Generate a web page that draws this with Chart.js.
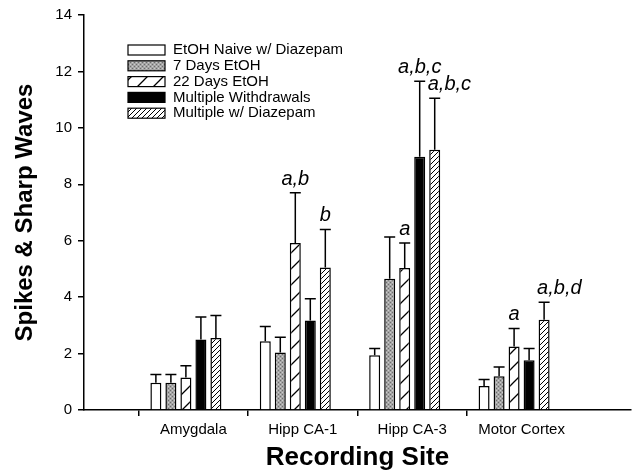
<!DOCTYPE html>
<html lang="en">
  <head>
    <meta charset="UTF-8" />
    <title>Spikes & Sharp Waves</title>
    <script src="https://cdn.jsdelivr.net/npm/chart.js@4.4.1/dist/chart.umd.min.js"></script>
    <style>
      body { margin: 0; background: #fff; }
    </style>
  </head>
  <body>
    <canvas id="myChart" width="636" height="473"></canvas>

    <script>
      // recording sites (x categories)
      const sites = ["Amygdala", "Hipp CA-1", "Hipp CA-3", "Motor Cortex"];
      const seriesNames = [
        "EtOH Naive w/ Diazepam",
        "7 Days EtOH",
        "22 Days EtOH",
        "Multiple Withdrawals",
        "Multiple w/ Diazepam",
      ];

      // means, per site
      const naive = [0.97, 2.44, 1.94, 0.85];
      const days7 = [0.97, 2.04, 4.65, 1.2];
      const days22 = [1.15, 5.92, 5.03, 2.25];
      const multiW = [2.5, 3.17, 8.98, 1.76];
      const multiDz = [2.55, 5.05, 9.22, 3.2];

      // SEM (upper error bars only)
      const naiveSem = [0.29, 0.52, 0.24, 0.23];
      const days7Sem = [0.29, 0.54, 1.48, 0.32];
      const days22Sem = [0.42, 1.78, 0.89, 0.64];
      const multiWSem = [0.8, 0.77, 2.67, 0.42];
      const multiDzSem = [0.8, 1.35, 1.83, 0.62];

      const yMax = 14;
      const yStep = 2;

      // significance letters: site index, series index, text
      const sigLabels = [
        { site: 1, series: 2, text: "a,b" },
        { site: 1, series: 4, text: "b" },
        { site: 2, series: 2, text: "a" },
        { site: 2, series: 3, text: "a,b,c" },
        { site: 2, series: 4, text: "a,b,c" },
        { site: 3, series: 2, text: "a" },
        { site: 3, series: 4, text: "a,b,d" },
      ];

      const means = [naive, days7, days22, multiW, multiDz];
      const sems = [naiveSem, days7Sem, days22Sem, multiWSem, multiDzSem];

      // empty slot on each side so the sites sit at 1..4 of 0..5
      const labels = ["", ...sites, ""];
      const pad = (a) => [null, ...a, null];

      const FONT = "'Liberation Sans', Arial, Helvetica, sans-serif";
      Chart.defaults.font.family = FONT;
      Chart.defaults.color = "#000";

      const ctx = document.getElementById("myChart");
      const g = ctx.getContext("2d");

      function tile(size, draw) {
        const c = document.createElement("canvas");
        c.width = size;
        c.height = size;
        const t = c.getContext("2d");
        draw(t, size);
        return g.createPattern(c, "repeat");
      }

      function hatch(size, lw) {
        return tile(size, (t, s) => {
          t.fillStyle = "#fff";
          t.fillRect(0, 0, s, s);
          t.strokeStyle = "#000";
          t.lineWidth = lw;
          t.beginPath();
          t.moveTo(-1, s + 1);
          t.lineTo(s + 1, -1);
          t.moveTo(-2, 2);
          t.lineTo(2, -2);
          t.moveTo(s - 2, s + 2);
          t.lineTo(s + 2, s - 2);
          t.stroke();
        });
      }

      const stipple = tile(4, (t) => {
        t.fillStyle = "#a4a4a4";
        t.fillRect(0, 0, 4, 4);
        t.fillStyle = "#6c6c6c";
        t.fillRect(0, 0, 1, 1);
        t.fillRect(2, 2, 1, 1);
        t.fillStyle = "#cccccc";
        t.fillRect(2, 0, 1, 1);
        t.fillRect(0, 2, 1, 1);
      });

      const fills = ["#fff", stipple, hatch(16, 1.3), "#000", hatch(5, 1)];

      const datasets = means.map((m, i) => ({
        label: seriesNames[i],
        data: pad(m),
        backgroundColor: fills[i],
        borderColor: "#000",
        borderWidth: 1.5,
      }));
      // sixth, empty slot (original software leaves it blank)
      datasets.push({ label: "", data: labels.map(() => null) });

      const errorBars = {
        id: "errorBars",
        afterDatasetsDraw(chart) {
          const y = chart.scales.y;
          g.save();
          g.strokeStyle = "#000";
          g.lineWidth = 1.5;
          means.forEach((m, i) => {
            const meta = chart.getDatasetMeta(i);
            m.forEach((v, j) => {
              const el = meta.data[j + 1];
              const top = y.getPixelForValue(v + sems[i][j]);
              const half = el.width / 2;
              g.beginPath();
              g.moveTo(el.x, el.y);
              g.lineTo(el.x, top);
              g.moveTo(el.x - half, top);
              g.lineTo(el.x + half, top);
              g.stroke();
            });
          });
          g.restore();
        },
      };

      const sigText = {
        id: "sigText",
        afterDatasetsDraw(chart) {
          const y = chart.scales.y;
          g.save();
          g.fillStyle = "#000";
          g.font = "italic 20px " + FONT;
          g.textBaseline = "alphabetic";
          g.textAlign = "left";
          sigLabels.forEach((s) => {
            const el = chart.getDatasetMeta(s.series).data[s.site + 1];
            const top = y.getPixelForValue(means[s.series][s.site] + sems[s.series][s.site]);
            const w = g.measureText(s.text).width;
            let left = el.x - w / 2;
            if (s.series === means.length - 1) left = Math.max(left, el.x - 7);
            g.fillText(s.text, left, top - 8);
          });
          g.restore();
        },
      };

      const boxLegend = {
        id: "boxLegend",
        afterDraw(chart) {
          const a = chart.chartArea;
          const x0 = a.left + 44;
          g.save();
          g.font = "15px " + FONT;
          g.textBaseline = "middle";
          seriesNames.forEach((name, i) => {
            const cy = a.top + 35 + i * 15.8;
            g.fillStyle = fills[i];
            g.fillRect(x0, cy - 5, 37, 10);
            g.strokeStyle = "#000";
            g.lineWidth = 1.2;
            g.strokeRect(x0, cy - 5, 37, 10);
            g.fillStyle = "#000";
            g.fillText(name, x0 + 45, cy);
          });
          g.restore();
        },
      };

      new Chart(ctx, {
        type: "bar",
        data: { labels: labels, datasets: datasets },
        options: {
          responsive: false,
          devicePixelRatio: 1,
          animation: false,
          layout: { padding: { left: 0, right: 5, top: 12, bottom: 0 } },
          datasets: { bar: { categoryPercentage: 0.823, barPercentage: 0.733 } },
          plugins: { legend: { display: false }, tooltip: { enabled: false } },
          scales: {
            x: {
              offset: false,
              grid: {
                drawOnChartArea: false,
                tickLength: 6,
                lineWidth: 1.5,
                color: (c) =>
                  c.index === 0 || c.index === labels.length - 1 ? "rgba(0,0,0,0)" : "#000",
              },
              border: { color: "#000", width: 1.5 },
              ticks: { font: { size: 15 }, color: "#000", padding: 5, maxRotation: 0, autoSkip: false },
              title: {
                display: true,
                text: "Recording Site",
                font: { size: 26, weight: "bold" },
                color: "#000",
                padding: 0,
              },
              afterFit: (s) => {
                s.height = 63;
              },
            },
            y: {
              min: 0,
              max: yMax,
              ticks: { stepSize: yStep, font: { size: 15 }, color: "#000", padding: 6 },
              grid: { drawOnChartArea: false, tickLength: 6, lineWidth: 1.5, color: "#000" },
              border: { color: "#000", width: 1.5 },
              title: {
                display: true,
                text: "Spikes & Sharp Waves",
                font: { size: 24, weight: "bold" },
                color: "#000",
                padding: { top: 11, bottom: 0 },
              },
              afterFit: (s) => {
                s.width = 84;
              },
            },
          },
        },
        plugins: [errorBars, sigText, boxLegend],
      });
    </script>
  </body>
</html>
